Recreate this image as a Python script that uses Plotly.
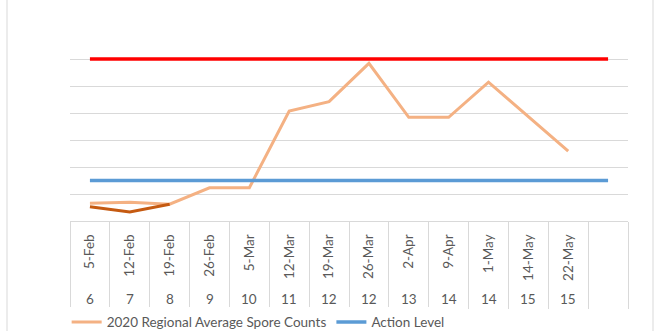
import numpy as np
import plotly.graph_objects as go

# Sampling dates and their week numbers (last slot is an empty category)
dates = ["5-Feb", "12-Feb", "19-Feb", "26-Feb", "5-Mar", "12-Mar", "19-Mar",
         "26-Mar", "2-Apr", "9-Apr", "1-May", "14-May", "22-May", ""]
weeks = ["6", "7", "8", "9", "10", "11", "12", "12", "13", "14", "14", "15", "15", ""]

# Spore counts
spore_2020 = [6.6, 6.9, 6.2, 12.3, 12.3, 40.7, 44.2, 58.4, 38.4, 38.4, 51.4, 38.6, 25.9]
spore_early = [5.3, 3.3, 6.2]
action_level = [15] * 14
upper_level = [60] * 14

x_all = np.arange(len(dates))
font_family = "Lato, 'Open Sans', sans-serif"
grid = "#D9D9D9"
txt = "#595959"
fsize = 13.5

fig = go.Figure()
fig.add_trace(go.Scatter(x=x_all[:len(spore_2020)], y=spore_2020, mode="lines",
                         name="2020 Regional Average Spore Counts",
                         line=dict(color="#F4B183", width=3)))
fig.add_trace(go.Scatter(x=x_all, y=action_level, mode="lines", name="Action Level",
                         line=dict(color="#5B9BD5", width=3.5)))
fig.add_trace(go.Scatter(x=x_all, y=upper_level, mode="lines", name="Upper Level",
                         showlegend=False, line=dict(color="#FF0000", width=3.5)))
fig.add_trace(go.Scatter(x=x_all[:len(spore_early)], y=spore_early, mode="lines",
                         name="Early Counts", showlegend=False,
                         line=dict(color="#C55A11", width=3)))
# invisible trace to carry the boundary-tick axis
fig.add_trace(go.Scatter(x=[x_all[0]], y=[None], xaxis="x2", showlegend=False,
                         hoverinfo="skip"))

# week-number row under the dates
for i, w in enumerate(weeks):
    fig.add_annotation(x=i, y=-0.411, xref="x", yref="paper", text=w,
                       showarrow=False, yanchor="middle",
                       font=dict(family=font_family, size=fsize, color=txt))

# chart border on the left and right
for xp in [(7 - 70) / 558, (653 - 70) / 558]:
    fig.add_shape(type="line", xref="paper", yref="paper", x0=xp, x1=xp,
                  y0=-0.6, y1=1.2, line=dict(color=grid, width=1))

fig.update_layout(
    width=662, height=331,
    margin=dict(l=70, r=34, t=32, b=110, autoexpand=False),
    paper_bgcolor="white", plot_bgcolor="white",
    font=dict(family=font_family, size=fsize, color=txt),
    showlegend=True,
    legend=dict(orientation="h", x=-0.006, xanchor="left", y=-0.535, yanchor="middle",
                font=dict(size=fsize, color=txt), itemwidth=30, tracegroupgap=0),
    xaxis=dict(range=[-0.5, 13.5], tickmode="array", tickvals=x_all, ticktext=dates,
               tickangle=-90, ticks="", showgrid=False, zeroline=False, automargin=False,
               showline=True, linecolor=grid, linewidth=1, ticklabelstandoff=7,
               tickfont=dict(size=fsize, color=txt)),
    xaxis2=dict(range=[-0.5, 13.5], overlaying="x", anchor="y", side="bottom",
                tickmode="array", tickvals=np.arange(-0.5, 14, 1.0), automargin=False,
                ticks="outside", ticklen=87, tickcolor=grid, tickwidth=1,
                showticklabels=False, showgrid=False, zeroline=False, showline=False),
    yaxis=dict(range=[0, 70], dtick=10, showgrid=True, gridcolor=grid, gridwidth=1,
               showticklabels=False, zeroline=False, ticks="", automargin=False),
)

fig.write_html("out.html")
